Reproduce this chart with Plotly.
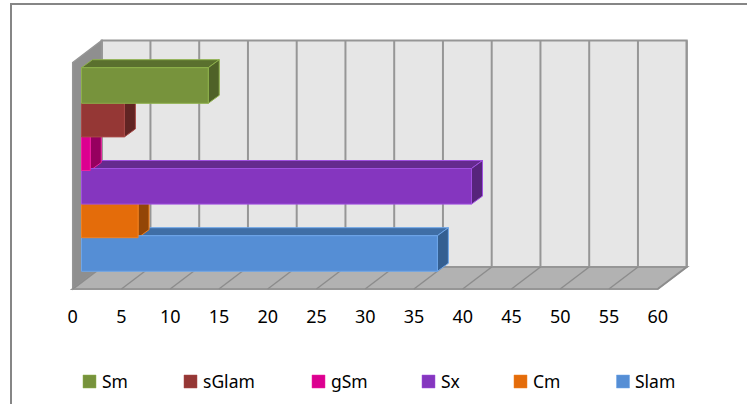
import plotly.graph_objects as go

# Data
series = ["Slam", "Cm", "Sx", "gSm", "sGlam", "Sm"]
values = [36.5, 5.8, 40.0, 0.9, 4.4, 13.0]
ticks = list(range(0, 65, 5))
legend_order = ["Sm", "sGlam", "gSm", "Sx", "Cm", "Slam"]

# Styles
front = {"Slam": "#558ed5", "Cm": "#e46c0a", "Sx": "#8536bf", "gSm": "#dc0090", "sGlam": "#953735", "Sm": "#77933c"}
top = {"Slam": "#3f6ea6", "Cm": "#a85008", "Sx": "#652a8f", "gSm": "#a5006c", "sGlam": "#702928", "Sm": "#5a702e"}
side = {"Slam": "#345f91", "Cm": "#934607", "Sx": "#57247c", "gSm": "#96005f", "sGlam": "#612423", "Sm": "#4f6228"}
edge = {"Slam": "#6ea5e8", "Cm": "#f08020", "Sx": "#a050e0", "gSm": "#f020a0", "sGlam": "#a84a48", "Sm": "#8db04a"}

W, H = 747, 404
PX_X, X0 = 9.75, 72.7        # px per value unit, px of value 0 on front plane
PX_Y, Y0 = 33.6, 253.5       # px per row, px of row 0
DX, DY = 29.0 / PX_X, 22.0 / PX_Y    # chart depth in axis units
BX, BY = 11.0 / PX_X, 8.0 / PX_Y     # bar depth in axis units
BASE = 8.8 / PX_X            # bars stand a little behind the front plane
BAR_H = 35.6 / PX_Y
FLOOR = (Y0 - 289.0) / PX_Y
WALL_TOP = (Y0 - 62.5) / PX_Y
XMAX = ticks[-1]

shapes = []


def poly(points, fill, line=None, width=1, layer="below"):
    path = "M" + "L".join(f"{x},{y}" for x, y in points) + "Z"
    shapes.append(dict(type="path", path=path, xref="x", yref="y", fillcolor=fill,
                       line=dict(color=line or fill, width=width), layer=layer))


def seg(a, b, color, width):
    shapes.append(dict(type="line", x0=a[0], y0=a[1], x1=b[0], y1=b[1], xref="x", yref="y",
                       line=dict(color=color, width=width), layer="below"))


# Back wall, left wall, floor
poly([(DX, FLOOR + DY), (DX, WALL_TOP + DY), (XMAX + DX, WALL_TOP + DY), (XMAX + DX, FLOOR + DY)], "#e6e6e6", "#969696", 2)
poly([(0, FLOOR), (0, WALL_TOP), (DX, WALL_TOP + DY), (DX, FLOOR + DY)], "#8f8f8f", "#969696", 1.5)
poly([(0, FLOOR), (XMAX, FLOOR), (XMAX + DX, FLOOR + DY), (DX, FLOOR + DY)], "#b2b2b2", "#969696", 2)
for t in ticks:
    seg((t + DX, FLOOR + DY), (t + DX, WALL_TOP + DY), "#969696", 2)
    seg((t, FLOOR), (t + DX, FLOOR + DY), "#8c8c8c", 1.5)

# Bar depth faces
for i, (name, v) in enumerate(zip(series, values)):
    t, b = i + BAR_H / 2, i - BAR_H / 2
    end = BASE + v
    poly([(BASE, t), (end, t), (end + BX, t + BY), (BASE + BX, t + BY)], top[name], edge[name])
    poly([(end, b), (end, t), (end + BX, t + BY), (end + BX, b + BY)], side[name], edge[name])

# Legend row
swatch_px = [83, 184, 312, 422, 514, 616.5]
for name, px in zip(legend_order, swatch_px):
    shapes.append(dict(type="rect", xref="paper", yref="paper", x0=px / W, x1=(px + 13) / W,
                       y0=1 - 388 / H, y1=1 - 375 / H, fillcolor=front[name],
                       line=dict(color=edge[name], width=0.5)))
annotations = [dict(text=name, xref="paper", yref="paper", x=(px + 16.5) / W, y=1 - 381 / H,
                    xanchor="left", yanchor="middle", showarrow=False, xshift=0,
                    font=dict(family="Noto Sans", size=17.5, color="#000000"))
               for name, px in zip(legend_order, swatch_px)]

# Chart-area border, open to the right and bottom
shapes.append(dict(type="path", xref="paper", yref="paper",
                   path=f"M{11 / W},0L{11 / W},{1 - 4 / H}L1,{1 - 4 / H}",
                   line=dict(color="#868686", width=2)))

fig = go.Figure()
for i, (name, v) in enumerate(zip(series, values)):
    fig.add_trace(go.Bar(y=[i], x=[v], base=BASE, orientation="h", width=BAR_H, name=name,
                         marker=dict(color=front[name], line=dict(color=edge[name], width=1))))

fig.update_layout(
    width=W, height=H, autosize=False, margin=dict(l=0, r=0, t=0, b=0),
    paper_bgcolor="white", plot_bgcolor="white", showlegend=False, barmode="overlay",
    shapes=shapes, annotations=annotations,
    xaxis=dict(range=[-X0 / PX_X, (W - X0) / PX_X], tickmode="array", tickvals=ticks,
               ticktext=[str(t) for t in ticks], showgrid=False, zeroline=False, showline=False,
               ticks="", anchor="free", position=1 - 304 / H,
               tickfont=dict(family="Noto Sans", size=18, color="#000000")),
    yaxis=dict(range=[(Y0 - H) / PX_Y, Y0 / PX_Y], visible=False, showgrid=False, zeroline=False),
)
fig.write_html("out.html", config={"displayModeBar": False},
               post_script="document.body.style.margin='0';document.body.style.overflow='hidden';")
